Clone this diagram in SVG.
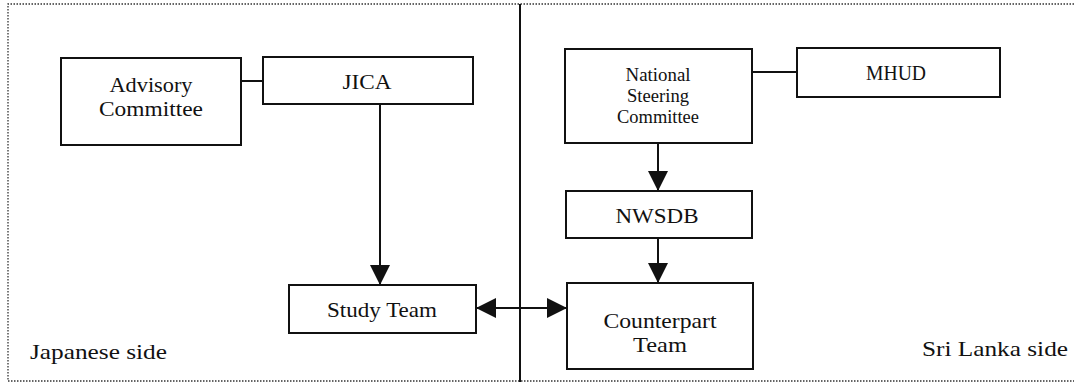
<svg xmlns="http://www.w3.org/2000/svg" width="1074" height="384" viewBox="0 0 1074 384">
<style>
.box{fill:#fff;stroke:#111;stroke-width:2}
.conn{fill:none;stroke:#111;stroke-width:2}
.frame{fill:none;stroke:#333;stroke-width:1.3;stroke-dasharray:1.5 1.5}
text{font-family:"Liberation Serif","Times New Roman",serif;fill:#111;text-anchor:middle}
.t22{font-size:22px}
.t21{font-size:21px}
.t18{font-size:18.5px}
.lbl{font-size:22px;text-anchor:start}
</style>
<defs>
<marker id="arr" markerUnits="userSpaceOnUse" markerWidth="20" markerHeight="20" refX="20" refY="10" orient="auto-start-reverse">
<path d="M0,0 L20,10 L0,20 Z" fill="#111"/>
</marker>
</defs>
<rect width="1074" height="384" fill="#fff"/>
<path class="frame" d="M1074,4 H8 V381 H1074"/>
<line x1="520" y1="4" x2="520" y2="382" stroke="#111" stroke-width="2"/>

<g id="connectors">
<line class="conn" x1="241" y1="81" x2="263" y2="81"/>
<line class="conn" x1="380" y1="104" x2="380" y2="285" marker-end="url(#arr)"/>
<line class="conn" x1="476" y1="308" x2="567" y2="308" marker-start="url(#arr)" marker-end="url(#arr)"/>
<line class="conn" x1="752" y1="72" x2="797" y2="72"/>
<line class="conn" x1="658" y1="143" x2="658" y2="191" marker-end="url(#arr)"/>
<line class="conn" x1="658" y1="238" x2="658" y2="283" marker-end="url(#arr)"/>
</g>

<g id="advisory">
<rect class="box" x="61" y="58" width="180" height="87"/>
<text class="t22" x="151" y="92" textLength="83" lengthAdjust="spacingAndGlyphs">Advisory</text>
<text class="t22" x="151" y="116" textLength="104" lengthAdjust="spacingAndGlyphs">Committee</text>
</g>
<g id="jica">
<rect class="box" x="263" y="57" width="210" height="47"/>
<text class="t22" x="367" y="89" textLength="49" lengthAdjust="spacingAndGlyphs">JICA</text>
</g>
<g id="study-team">
<rect class="box" x="289" y="285" width="187" height="48"/>
<text class="t22" x="382" y="317" textLength="110" lengthAdjust="spacingAndGlyphs">Study Team</text>
</g>
<g id="nsc">
<rect class="box" x="565" y="49" width="187" height="94"/>
<text class="t18" x="658" y="81" textLength="65" lengthAdjust="spacingAndGlyphs">National</text>
<text class="t18" x="658" y="102" textLength="62" lengthAdjust="spacingAndGlyphs">Steering</text>
<text class="t18" x="658" y="123" textLength="82" lengthAdjust="spacingAndGlyphs">Committee</text>
</g>
<g id="mhud">
<rect class="box" x="797" y="48" width="203" height="49"/>
<text class="t22" x="896" y="80" textLength="60" lengthAdjust="spacingAndGlyphs">MHUD</text>
</g>
<g id="nwsdb">
<rect class="box" x="566" y="191" width="186" height="47"/>
<text class="t22" x="657" y="223" textLength="83" lengthAdjust="spacingAndGlyphs">NWSDB</text>
</g>
<g id="counterpart">
<rect class="box" x="567" y="283" width="186" height="86"/>
<text class="t21" x="660" y="328" textLength="113" lengthAdjust="spacingAndGlyphs">Counterpart</text>
<text class="t21" x="660" y="352" textLength="54" lengthAdjust="spacingAndGlyphs">Team</text>
</g>
<g id="labels">
<text class="lbl" x="30" y="359" textLength="137" lengthAdjust="spacingAndGlyphs">Japanese side</text>
<text class="lbl" x="922" y="356" textLength="146" lengthAdjust="spacingAndGlyphs">Sri Lanka side</text>
</g>
</svg>
